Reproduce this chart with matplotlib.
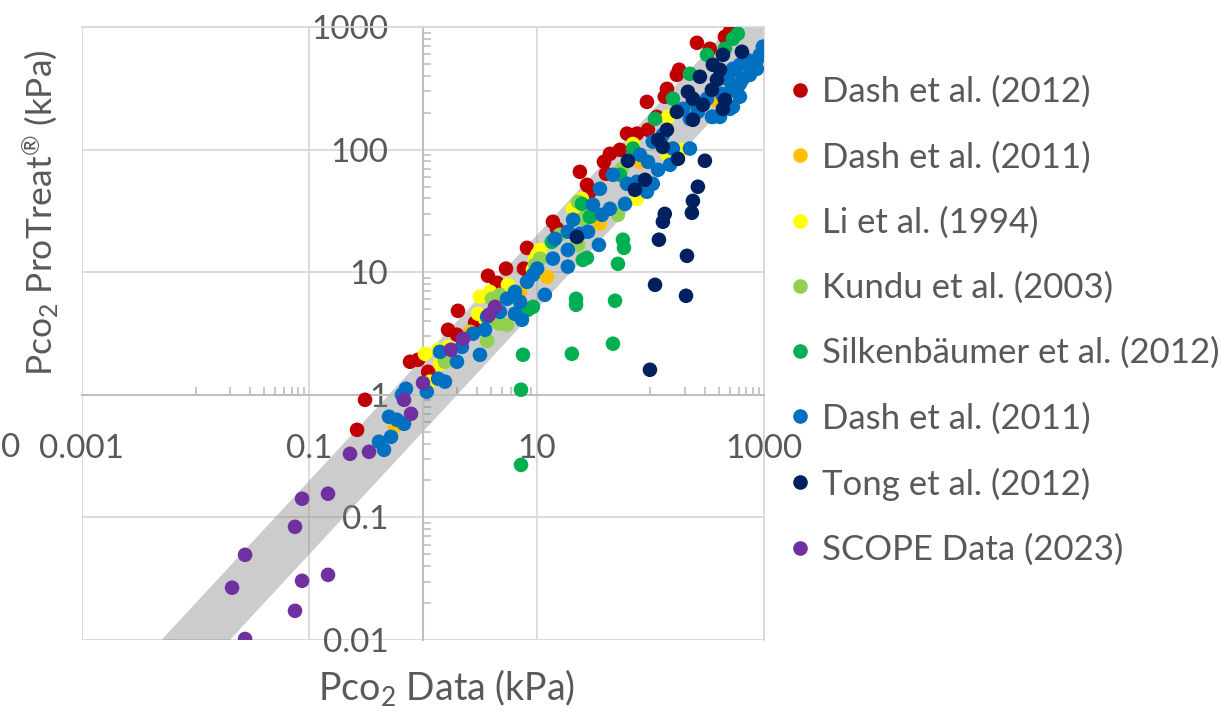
import numpy as np
import matplotlib
matplotlib.use("Agg")
import matplotlib.pyplot as plt
from matplotlib.lines import Line2D

plt.rcParams['font.family'] = ['Lato', 'DejaVu Sans']
plt.rcParams['mathtext.fontset'] = 'custom'
plt.rcParams['mathtext.rm'] = 'Lato'
plt.rcParams['mathtext.it'] = 'Lato:italic'

TEXT = '#595959'

dash12_x = [501, 453, 257, 334, 179, 171, 140, 134, 93.3, 114, 62.3, 76.2, 95.3, 44.1, 54.0, 39.1, 40.7, 24.0,
            27.7, 29.4, 13.9, 15.1, 8.22, 5.37, 3.73, 4.48, 7.73, 2.03, 1.66, 1.99, 2.87, 0.769, 0.904, 1.11,
            0.309, 0.263]
dash12_y = [914, 832, 743, 664, 448, 407, 313, 270, 245, 185, 135, 135, 145, 92.4, 99.6, 79.5, 63.5, 65.9,
            51.6, 45.3, 25.8, 22.6, 15.8, 10.7, 9.35, 8.20, 10.7, 4.84, 3.39, 3.09, 3.87, 1.86, 1.93, 1.54,
            0.910, 0.518]

dash11a_x = [12.3, 36.0, 155, 370, 0.567, 2.59, 7.13, 81.1, 223]
dash11a_y = [9.17, 24.8, 102, 255, 0.548, 3.26, 6.92, 79.5, 185]

li_x = [1.04, 1.41, 1.66, 1.15, 1.36, 3.05, 3.51, 5.59, 9.28, 3.17, 3.88, 10.7, 10.1, 20.9, 25.0, 70.3,
        76.2, 140, 190, 143, 9.66]
li_y = [2.16, 1.79, 2.46, 1.28, 2.33, 4.58, 4.17, 7.89, 10.5, 6.30, 6.92, 15.2, 13.9, 32.9, 39.7, 111,
        39.7, 92.4, 99.6, 185, 12.6]

kundu_x = [4.04, 4.75, 5.48, 3.66, 10.7, 9.66, 22.6, 23.1, 51.9, 56.3, 4.48, 4.75, 16.0, 25.5, 27.7, 23.1, 1.56]
kundu_y = [6.07, 3.80, 3.72, 2.76, 12.9, 11.5, 17.7, 37.5, 29.4, 69.7, 3.94, 6.54, 20.2, 27.3, 28.3, 16.7, 1.86]

silk_x = [7.58, 7.28, 7.28, 20.4, 46.9, 22.2, 22.2, 48.9, 25.5, 27.7, 51.9, 57.4, 58.6, 9.28, 8.38, 158,
          110, 70.3, 25.0, 29.4, 54.0, 223, 315, 589, 533, 453, 13.6]
silk_y = [2.12, 1.10, 0.268, 2.16, 2.61, 6.07, 5.42, 5.85, 12.6, 13.1, 11.7, 18.4, 15.8, 5.22, 4.94, 260,
          178, 102, 36.1, 28.3, 62.3, 415, 593, 881, 802, 664, 17.7]

dash11b_x = [0.410, 0.454, 0.523, 0.502, 0.681, 0.590, 0.708, 0.653, 1.08, 1.36,
             1.56, 1.99, 1.41, 3.17, 2.20, 2.75, 3.51, 3.66, 4.75, 6.44,
             7.42, 5.48, 6.44, 7.13, 8.22, 9.28, 11.8, 10.1, 13.9, 18.8,
             18.8, 14.5, 18.8, 24.0, 28.3, 35.3, 20.9, 31.3, 37.5, 44.1,
             36.0, 46.9, 62.3, 59.8, 76.2, 93.3, 105, 95.3, 81.1, 117,
             149, 105, 158, 223, 129, 223, 348, 237, 315, 501,
             578, 751, 798, 978, 920, 708, 533, 652, 472, 866,
             614, 555, 482, 614, 522, 426, 614, 533, 355, 262,
             194, 410, 832, 990, 866]
dash11b_y = [0.414, 0.356, 0.454, 0.662, 0.580, 0.625, 1.12, 1.0, 1.06, 1.35,
             1.28, 1.86, 2.24, 2.12, 2.46, 3.15, 3.39, 4.33, 4.75, 4.58,
             4.09, 6.07, 6.92, 5.74, 8.35, 9.53, 6.54, 10.7, 12.9, 11.1,
             15.2, 18.7, 21.4, 20.6, 21.4, 16.7, 26.8, 35.5, 29.4, 32.9,
             47.9, 62.3, 52.6, 36.1, 54.6, 45.3, 52.6, 79.5, 90.7, 68.4,
             75.2, 116, 102, 102, 132, 178, 185, 245, 260, 215,
             296, 407, 492, 690, 593, 540, 456, 378, 378, 456,
             492, 448, 393, 344, 313, 285, 270, 223, 185, 203,
             215, 185, 473, 690, 540]

tong_x = [639, 435, 355, 410, 273, 385, 348, 214, 237, 453, 290, 435, 171, 237, 140, 117, 129, 63.5, 175,
          302, 89.7, 73.2, 262, 237, 232, 134, 129, 119, 210, 22.6, 110, 206, 99.2]
tong_y = [628, 593, 492, 448, 393, 371, 307, 296, 260, 255, 232, 215, 203, 175, 145, 120, 105, 81.1, 84.1,
          81.1, 56.7, 47.0, 49.8, 38.2, 30.5, 29.9, 25.8, 18.4, 13.6, 19.4, 7.89, 6.42, 1.60]

scope_x = [0.0272, 0.0209, 0.0272, 0.0863, 0.0748, 0.146, 0.0863, 0.146, 0.0748, 0.228, 0.335, 0.681,
           0.784, 1.0, 1.76, 2.25, 3.80, 4.30]
scope_y = [0.0495, 0.0267, 0.0102, 0.142, 0.0838, 0.156, 0.0304, 0.034, 0.0173, 0.330, 0.343, 0.910,
           0.700, 1.25, 2.33, 2.86, 4.49, 5.22]

series = [
    ('Dash et al. (2012)', dash12_x, dash12_y, '#C00000'),
    ('Dash et al. (2011)', dash11a_x, dash11a_y, '#FFC000'),
    ('Li et al. (1994)', li_x, li_y, '#FFFF00'),
    ('Kundu et al. (2003)', kundu_x, kundu_y, '#92D050'),
    ('Silkenbäumer et al. (2012)', silk_x, silk_y, '#00B050'),
    ('Dash et al. (2011)', dash11b_x, dash11b_y, '#0070C0'),
    ('Tong et al. (2012)', tong_x, tong_y, '#002060'),
    ('SCOPE Data (2023)', scope_x, scope_y, '#7030A0'),
]

fig = plt.figure(figsize=(12.22, 7.14), dpi=100)
ax = fig.add_axes([82 / 1222, 74 / 714, 682 / 1222, 613 / 714])
ax.set_xscale('log')
ax.set_yscale('log')
ax.set_xlim(0.001, 1000)
ax.set_ylim(0.01, 1000)

# +/- factor 2 band
xs = np.logspace(-3.5, 3.5, 200)
ax.fill_between(xs, xs / 2, xs * 2, color='#808080', alpha=0.4, lw=0, zorder=1)

handles = []
for name, x, y, c in series:
    ax.scatter(x, y, s=110, color=c, edgecolors='none', zorder=3)
    handles.append(Line2D([], [], ls='none', marker='o', ms=9.5, color=c, label=name))

ax.set_axisbelow(True)
ax.grid(which='major', color='#D9D9D9', linewidth=1.3)
ax.set_xticks([0.001, 0.1, 10, 1000])
ax.set_xticklabels(['0.001', '0.1', '10', '1000'])
ax.set_yticks([0.01, 0.1, 1, 10, 100, 1000])
ax.set_yticklabels(['0.01', '0.1', '1', '10', '100', '1000'])
xminor = [k * 10.0 ** e for e in (-2, 0, 2) for k in range(1, 10)]
yminor = [k * 10.0 ** e for e in range(-2, 3) for k in range(2, 10)]
ax.set_xticks(xminor, minor=True)
ax.set_yticks(yminor, minor=True)
ax.tick_params(which='minor', direction='in', length=6, width=1.2, color='#BFBFBF',
               labelbottom=False, labelleft=False)
ax.tick_params(which='major', length=0, labelsize=24, labelcolor=TEXT)
ax.tick_params(axis='x', which='major', pad=28)
ax.tick_params(axis='y', which='major', pad=25)

ax.spines['left'].set_position(('data', 1))
ax.spines['bottom'].set_position(('data', 1))
for s in ('left', 'bottom'):
    ax.spines[s].set_color('#BFBFBF')
    ax.spines[s].set_linewidth(1.5)
for s in ('top', 'right'):
    ax.spines[s].set_color('#D9D9D9')
    ax.spines[s].set_linewidth(1.3)

fig.text(40 / 1222, 1 - 213 / 714, r'Pco$_2$ ProTreat$^{\mathrm{®}}$ (kPa)', rotation=90,
         ha='center', va='center', fontsize=25.5, color=TEXT)
fig.text(447 / 1222, 1 - 688 / 714, r'Pco$_2$ Data (kPa)', ha='center', va='center',
         fontsize=27, color=TEXT)
fig.text(1 / 1222, 1 - 448 / 714, '0', ha='left', va='center', fontsize=24, color=TEXT)

fig.legend(handles=handles, loc='upper left', bbox_to_anchor=(786 / 1222, 1 - 76 / 714),
           frameon=False, fontsize=25, labelcolor=TEXT, borderpad=0, borderaxespad=0,
           handlelength=0.8, handletextpad=0.25, labelspacing=0.95)

fig.savefig('out.png', dpi=100)
